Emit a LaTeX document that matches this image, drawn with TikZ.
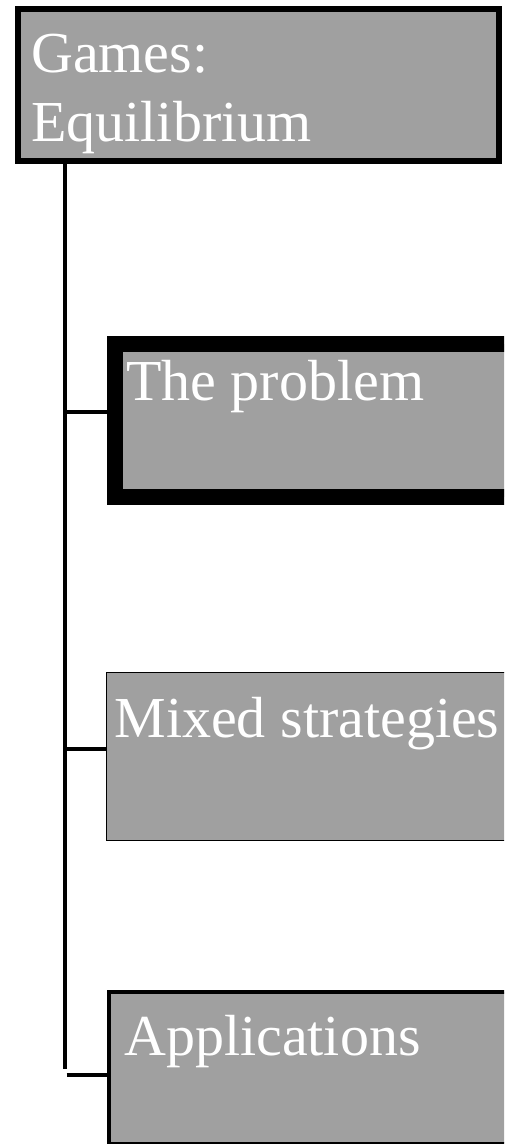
\documentclass[tikz,border=0pt]{standalone}
\usepackage{fontspec}
\setmainfont{Liberation Serif}
\definecolor{boxgray}{RGB}{160,160,160}
\tikzset{
    every node/.style={align=left,},
    topic/.style={draw,fill=boxgray,rectangle,inner sep=0pt,anchor=north west,},
    caption/.style={text=white,inner sep=0pt,anchor=base west,font=\fontsize{58}{69}\selectfont,},
    branch/.style={line width=4pt,},
}

\begin{document}
\begin{tikzpicture}[x=1pt,y=-1pt]
    \clip (0,0) rectangle (504,1144);

    \node[topic,line width=6pt,minimum width=481pt,minimum height=152pt] (games) at (15,6) {};
    \node[topic,line width=16pt,minimum width=430pt,minimum height=153pt] (problem) at (107,336) {};
    \node[topic,line width=1.3pt,minimum width=430pt,minimum height=168pt] (mixed) at (106,671.5) {};
    \node[topic,line width=3.5pt,minimum width=430pt,minimum height=151.5pt] (apps) at (107,990) {};

    \node[caption] (gamestext) at (31,141.7) {Games:\\Equilibrium};
    \node[caption] (problemtext) at (126,400.7) {The problem};
    \node[caption] (mixedtext) at (114.3,737.3) {Mixed strategies};
    \node[caption] (appstext) at (124,1055) {Applications};

    \coordinate (trunk) at (64.5,161);
    \coordinate (trunkend) at (64.5,1069);
    \coordinate (forkproblem) at (64.5,412);
    \coordinate (forkmixed) at (64.5,749);
    \coordinate (forkapps) at (66.5,1075);

    \draw[branch] (trunk) -- (trunkend);
    \draw[branch] (forkproblem) -- (forkproblem -| problem.west);
    \draw[branch] (forkmixed) -- (forkmixed -| mixed.west);
    \draw[branch] (forkapps) -- (forkapps -| apps.west);
\end{tikzpicture}
\end{document}
